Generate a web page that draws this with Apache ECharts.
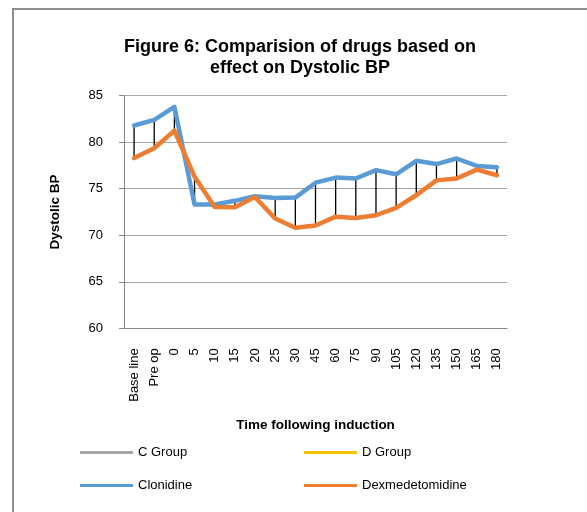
<!DOCTYPE html>
<html>
<head>
<meta charset="utf-8">
<script src="https://cdn.jsdelivr.net/npm/echarts@6/dist/echarts.min.js"></script>
<style>
html,body{margin:0;padding:0;background:#fff;}
#c{width:587px;height:512px;}
</style>
</head>
<body>
<div id="c"></div>
<script>
var categories = ['Base line','Pre op','0','5','10','15','20','25','30','45','60','75','90','105','120','135','150','165','180'];
var clonidine = [81.8,82.4,83.8,73.3,73.3,73.7,74.2,74.0,74.05,75.65,76.2,76.1,77.0,76.55,78.0,77.65,78.25,77.45,77.3];
var dexmed = [78.3,79.35,81.25,76.3,73.05,73.0,74.1,71.8,70.8,71.05,72.0,71.85,72.15,72.95,74.3,75.9,76.1,77.05,76.45];
var cGroup = [];
var dGroup = [];
var yTicks = {min: 60, max: 85, interval: 5};

var hiLo = categories.map(function (c, i) { return [i, clonidine[i], dexmed[i]]; });

var FONT = '"Liberation Sans", Arial, sans-serif';
var chart = echarts.init(document.getElementById('c'), null, {renderer: 'canvas'});

function legendAt(name, left, top) {
  return {
    data: [name], left: left, top: top, icon: 'rect', itemWidth: 53, itemHeight: 3,
    itemGap: 0, padding: 0,
    textStyle: {fontFamily: FONT, fontSize: 13, color: '#000', padding: [0,0,0,0]}
  };
}

chart.setOption({
  animation: false,
  backgroundColor: '#fff',
  graphic: [
    {type: 'rect', shape: {x: 13, y: 9, width: 700, height: 700}, style: {fill: 'none', stroke: '#8f8f8f', lineWidth: 2}, silent: true, z: -10},
    {type: 'text', x: 300, y: 37, style: {text: 'Figure 6: Comparision of drugs based on\neffect on Dystolic BP', font: 'bold 18px ' + FONT, fill: '#000', textAlign: 'center', textVerticalAlign: 'top', lineHeight: 21}}
  ],
  legend: [
    legendAt('C Group', 80, 446),
    legendAt('D Group', 304, 446),
    legendAt('Clonidine', 80, 479),
    legendAt('Dexmedetomidine', 304, 479)
  ],
  grid: {left: 124, right: 80, top: 95.7, bottom: 183.7, containLabel: false},
  xAxis: {
    type: 'category', data: categories, boundaryGap: true,
    axisLine: {lineStyle: {color: '#868686', width: 1}},
    axisTick: {show: false},
    axisLabel: {rotate: 90, margin: 20, fontFamily: FONT, fontSize: 13, color: '#000', interval: 0},
    name: 'Time following induction', nameLocation: 'middle', nameGap: 90,
    nameTextStyle: {fontFamily: FONT, fontSize: 13.5, fontWeight: 'bold', color: '#000'}
  },
  yAxis: {
    type: 'value', min: yTicks.min, max: yTicks.max, interval: yTicks.interval,
    axisLine: {show: true, lineStyle: {color: '#868686', width: 1}},
    axisTick: {show: true, length: 5, inside: false, lineStyle: {color: '#868686'}},
    splitLine: {lineStyle: {color: '#a6a6a6', width: 1}},
    axisLabel: {margin: 21, fontFamily: FONT, fontSize: 13, color: '#000'},
    name: 'Dystolic BP', nameLocation: 'middle', nameGap: 62, nameRotate: 90,
    nameTextStyle: {fontFamily: FONT, fontSize: 13.5, fontWeight: 'bold', color: '#000'}
  },
  series: [
    {name: 'C Group', type: 'line', data: cGroup, color: '#a5a5a5', showSymbol: false, lineStyle: {width: 2.5}},
    {name: 'D Group', type: 'line', data: dGroup, color: '#ffc000', showSymbol: false, lineStyle: {width: 2.5}},
    {
      name: 'hilo', type: 'custom', data: hiLo, z: 1,
      renderItem: function (params, api) {
        var p1 = api.coord([api.value(0), api.value(1)]);
        var p2 = api.coord([api.value(0), api.value(2)]);
        return {type: 'line', shape: {x1: p1[0], y1: p1[1], x2: p2[0], y2: p2[1]}, style: {stroke: '#000', lineWidth: 1.3}};
      },
      encode: {x: 0, y: [1, 2]}
    },
    {name: 'Clonidine', type: 'line', data: clonidine, color: '#5b9bd5', showSymbol: false, symbol: 'none', z: 3, lineStyle: {width: 4.5, join: 'round', cap: 'round'}},
    {name: 'Dexmedetomidine', type: 'line', data: dexmed, color: '#ed7d31', showSymbol: false, symbol: 'none', z: 4, lineStyle: {width: 4.5, join: 'round', cap: 'round'}}
  ]
});
</script>
</body>
</html>
